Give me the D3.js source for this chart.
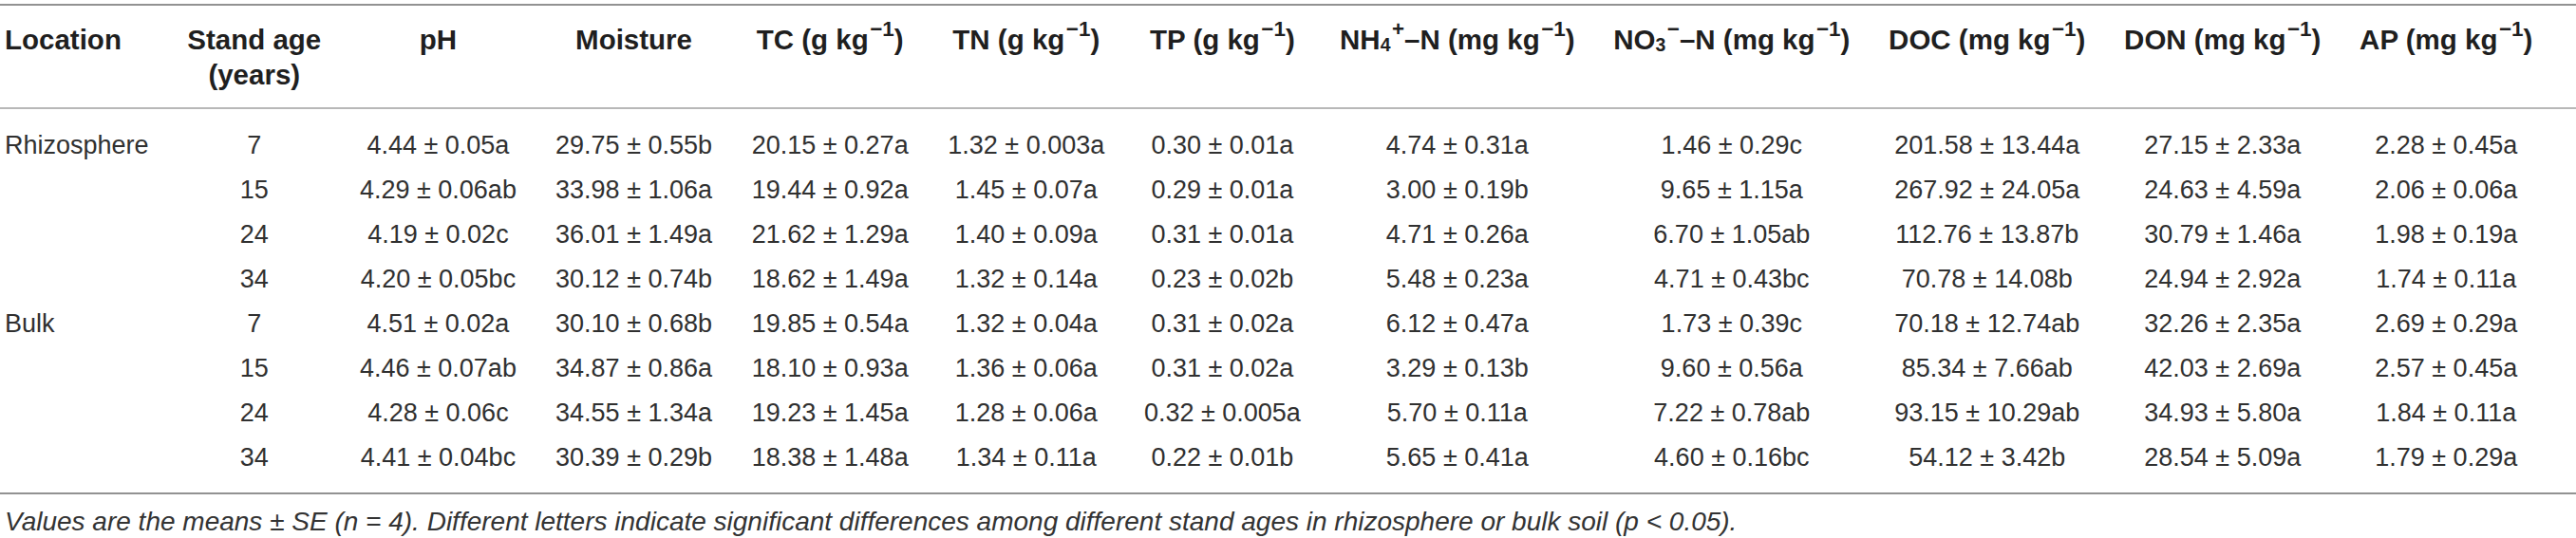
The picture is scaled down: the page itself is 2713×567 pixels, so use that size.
<!DOCTYPE html>
<html>
<head>
<meta charset="utf-8">
<script src="https://cdn.jsdelivr.net/npm/d3@7"></script>
<style>
  body { margin: 0; background: #fff; }
  svg { display: block; }
</style>
</head>
<body>
<svg id="chart"></svg>
<script>
// Dati della tabella
var locations = ["Rhizosphere", "Bulk"];
var standAges = ["7", "15", "24", "34", "7", "15", "24", "34"];

// Intestazioni: segmenti [testo, posizione] (0 normale, 1 apice, -1 pedice)
var headPH = [["pH", 0]];
var headMoisture = [["Moisture", 0]];
var headTC = [["TC (g kg", 0], ["\u22121", 1], [")", 0]];
var headTN = [["TN (g kg", 0], ["\u22121", 1], [")", 0]];
var headTP = [["TP (g kg", 0], ["\u22121", 1], [")", 0]];
var headNH4 = [["NH", 0], ["4", -1], ["+", 1], ["\u2013N (mg kg", 0], ["\u22121", 1], [")", 0]];
var headNO3 = [["NO", 0], ["3", -1], ["\u2212", 1], ["\u2013N (mg kg", 0], ["\u22121", 1], [")", 0]];
var headDOC = [["DOC (mg kg", 0], ["\u22121", 1], [")", 0]];
var headDON = [["DON (mg kg", 0], ["\u22121", 1], [")", 0]];
var headAP = [["AP (mg kg", 0], ["\u22121", 1], [")", 0]];

var valPH = ["4.44 ± 0.05a", "4.29 ± 0.06ab", "4.19 ± 0.02c", "4.20 ± 0.05bc", "4.51 ± 0.02a", "4.46 ± 0.07ab", "4.28 ± 0.06c", "4.41 ± 0.04bc"];
var valMoisture = ["29.75 ± 0.55b", "33.98 ± 1.06a", "36.01 ± 1.49a", "30.12 ± 0.74b", "30.10 ± 0.68b", "34.87 ± 0.86a", "34.55 ± 1.34a", "30.39 ± 0.29b"];
var valTC = ["20.15 ± 0.27a", "19.44 ± 0.92a", "21.62 ± 1.29a", "18.62 ± 1.49a", "19.85 ± 0.54a", "18.10 ± 0.93a", "19.23 ± 1.45a", "18.38 ± 1.48a"];
var valTN = ["1.32 ± 0.003a", "1.45 ± 0.07a", "1.40 ± 0.09a", "1.32 ± 0.14a", "1.32 ± 0.04a", "1.36 ± 0.06a", "1.28 ± 0.06a", "1.34 ± 0.11a"];
var valTP = ["0.30 ± 0.01a", "0.29 ± 0.01a", "0.31 ± 0.01a", "0.23 ± 0.02b", "0.31 ± 0.02a", "0.31 ± 0.02a", "0.32 ± 0.005a", "0.22 ± 0.01b"];
var valNH4 = ["4.74 ± 0.31a", "3.00 ± 0.19b", "4.71 ± 0.26a", "5.48 ± 0.23a", "6.12 ± 0.47a", "3.29 ± 0.13b", "5.70 ± 0.11a", "5.65 ± 0.41a"];
var valNO3 = ["1.46 ± 0.29c", "9.65 ± 1.15a", "6.70 ± 1.05ab", "4.71 ± 0.43bc", "1.73 ± 0.39c", "9.60 ± 0.56a", "7.22 ± 0.78ab", "4.60 ± 0.16bc"];
var valDOC = ["201.58 ± 13.44a", "267.92 ± 24.05a", "112.76 ± 13.87b", "70.78 ± 14.08b", "70.18 ± 12.74ab", "85.34 ± 7.66ab", "93.15 ± 10.29ab", "54.12 ± 3.42b"];
var valDON = ["27.15 ± 2.33a", "24.63 ± 4.59a", "30.79 ± 1.46a", "24.94 ± 2.92a", "32.26 ± 2.35a", "42.03 ± 2.69a", "34.93 ± 5.80a", "28.54 ± 5.09a"];
var valAP = ["2.28 ± 0.45a", "2.06 ± 0.06a", "1.98 ± 0.19a", "1.74 ± 0.11a", "2.69 ± 0.29a", "2.57 ± 0.45a", "1.84 ± 0.11a", "1.79 ± 0.29a"];

var footnote = "Values are the means ± SE (n = 4). Different letters indicate significant differences among different stand ages in rhizosphere or bulk soil (p  < 0.05).";

// Colonne costruite dagli array
var columns = [
  {head: [[["Location", 0]]], values: [locations[0], "", "", "", locations[1], "", "", ""], align: "start"},
  {head: [[["Stand age", 0]], [["(years)", 0]]], values: standAges},
  {head: [headPH], values: valPH},
  {head: [headMoisture], values: valMoisture},
  {head: [headTC], values: valTC},
  {head: [headTN], values: valTN},
  {head: [headTP], values: valTP},
  {head: [headNH4], values: valNH4},
  {head: [headNO3], values: valNO3},
  {head: [headDOC], values: valDOC},
  {head: [headDON], values: valDON},
  {head: [headAP], values: valAP}
];

// Dimensioni
var width = 2713, height = 567;
var margin = {left: 5, right: 5};
var font = "'Liberation Sans', Arial, Helvetica, sans-serif";
var headSize = 29.5, cellSize = 27;

var svg = d3.select("#chart")
  .attr("width", width)
  .attr("height", height)
  .style("font-family", font);

// Scale verticali
var yRow = d3.scalePoint()
  .domain(d3.range(standAges.length))
  .range([153, 482]);

var yHead = d3.scalePoint()
  .domain([0, 1])
  .range([41, 78]);

// Linee orizzontali
var rules = [
  {y: 5, color: "#6e6e6e", w: 1.6},
  {y: 114, color: "#b8b8b8", w: 2.2},
  {y: 520, color: "#6e6e6e", w: 1.6}
];
svg.selectAll("line.rule")
  .data(rules)
  .enter()
  .append("line")
  .attr("class", "rule")
  .attr("x1", 0)
  .attr("x2", width)
  .attr("y1", function(d) { return d.y; })
  .attr("y2", function(d) { return d.y; })
  .attr("stroke", function(d) { return d.color; })
  .attr("stroke-width", function(d) { return d.w; });

// Testo con apici e pedici
function writeSegments(text, segs, size) {
  var shift = 0;
  segs.forEach(function(s) {
    var target = s[1] === 1 ? -size * 0.36 : (s[1] === -1 ? size * 0.22 : 0);
    text.append("tspan")
      .attr("dy", target - shift)
      .attr("dx", s[1] === 1 ? 1.5 : 0)
      .style("font-size", s[1] === 1 ? (size * 0.76) + "px" : (s[1] === -1 ? (size * 0.66) + "px" : size + "px"))
      .text(s[0]);
    shift = target;
  });
}

// Disegno delle colonne
var colGroups = svg.selectAll("g.col")
  .data(columns)
  .enter()
  .append("g")
  .attr("class", "col");

colGroups.each(function(col) {
  var g = d3.select(this);
  var anchor = col.align || "middle";

  col.head.forEach(function(segs, i) {
    var t = g.append("text")
      .attr("x", 0)
      .attr("y", yHead(i))
      .attr("dominant-baseline", "central")
      .attr("text-anchor", anchor)
      .attr("fill", "#1f1f1f")
      .style("font-weight", "bold");
    writeSegments(t, segs, headSize);
  });

  g.selectAll("text.cell")
    .data(col.values)
    .enter()
    .append("text")
    .attr("class", "cell")
    .attr("x", 0)
    .attr("y", function(d, i) { return yRow(i); })
    .attr("dominant-baseline", "central")
    .attr("text-anchor", anchor)
    .attr("fill", "#303030")
    .style("font-size", cellSize + "px")
    .text(function(d) { return d; });
});

// Larghezze naturali delle colonne e spaziatura uguale tra le colonne
var widths = [];
colGroups.each(function() { widths.push(this.getBBox().width); });
var pad = (width - margin.left - margin.right - d3.sum(widths)) / columns.length;

var cursor = margin.left;
colGroups.attr("transform", function(d, i) {
  var x = d.align === "start" ? cursor : cursor + widths[i] / 2;
  cursor += widths[i] + pad;
  return "translate(" + x + ",0)";
});

// Nota a piè di tabella
svg.append("text")
  .attr("x", margin.left)
  .attr("y", 549)
  .attr("dominant-baseline", "central")
  .attr("fill", "#333")
  .style("font-style", "italic")
  .style("font-size", "28px")
  .text(footnote);
</script>
</body>
</html>
